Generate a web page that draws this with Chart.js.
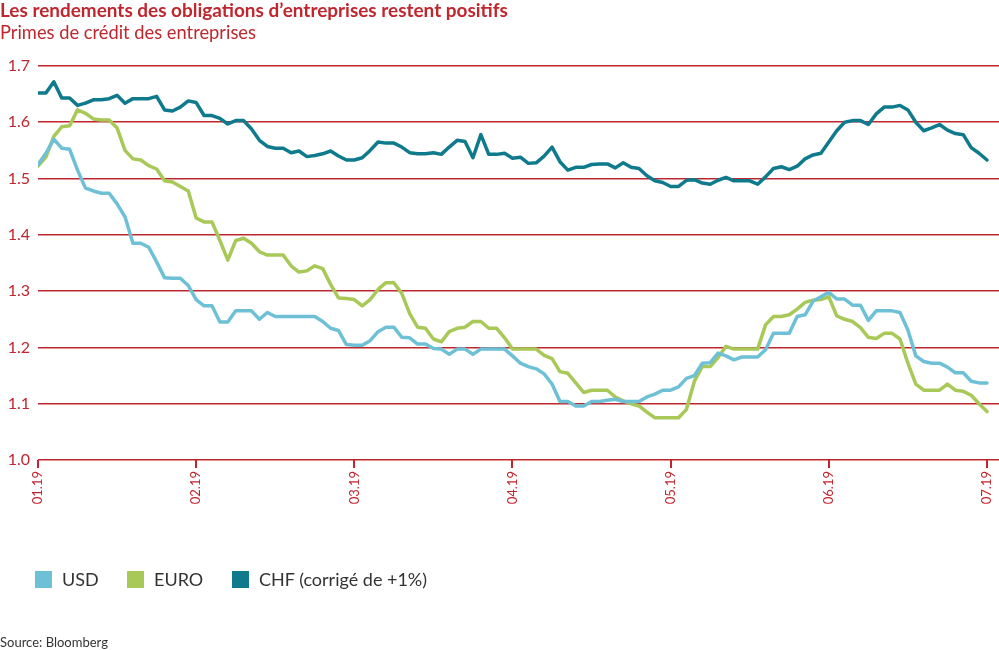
<!DOCTYPE html>
<html><head><meta charset="utf-8">
<script src="https://cdn.jsdelivr.net/npm/chart.js@4.4.0/dist/chart.umd.min.js"></script>
<style>
html,body{margin:0;padding:0;background:#fff;width:999px;height:650px;overflow:hidden;}
#wrap{position:relative;width:999px;height:650px;}
canvas{position:absolute;left:0;top:0;}
.t{position:absolute;white-space:nowrap;font-family:Lato,"Open Sans",sans-serif;}
#title{left:0;top:-2px;font-weight:bold;font-size:18px;color:#c0262e;}
#subtitle{left:0;top:21px;font-size:18px;color:#c0262e;}
#legend{position:absolute;left:35px;top:568px;font-family:Lato,"Open Sans",sans-serif;font-size:18px;color:#333;}
#legend span.item{position:absolute;white-space:nowrap;top:0;}
#legend i{display:inline-block;width:17px;height:17px;vertical-align:-2px;margin-right:10px;}
#source{left:0;top:634px;font-size:13px;color:#333;}
</style></head>
<body><div id="wrap">
<canvas id="c" width="999" height="650"></canvas>
<div class="t" id="title">Les rendements des obligations d’entreprises restent positifs</div>
<div class="t" id="subtitle">Primes de crédit des entreprises</div>
<div id="legend"></div>
<div class="t" id="source">Source: Bloomberg</div>
</div>
<script>
const tickLabels = ['01.19','02.19','03.19','04.19','05.19','06.19','07.19'];
const seriesNames = ['USD','EURO','CHF (corrigé de +1%)'];
const pointsPerMonth = 20;
const usd = [1.525,1.545,1.570,1.554,1.552,1.515,1.483,1.478,1.474,1.474,
1.455,1.432,1.385,1.385,1.378,1.352,1.324,1.323,1.323,1.310,
1.285,1.274,1.274,1.245,1.245,1.265,1.265,1.265,1.250,1.262,
1.255,1.255,1.255,1.255,1.255,1.255,1.246,1.234,1.230,1.205,
1.204,1.204,1.212,1.228,1.236,1.236,1.218,1.217,1.206,1.206,
1.198,1.197,1.188,1.197,1.197,1.188,1.197,1.197,1.197,1.197,
1.185,1.172,1.166,1.162,1.153,1.135,1.104,1.104,1.096,1.096,
1.104,1.104,1.106,1.108,1.104,1.104,1.104,1.112,1.117,1.124,
1.124,1.130,1.145,1.150,1.172,1.173,1.190,1.185,1.178,1.183,
1.183,1.183,1.196,1.225,1.225,1.225,1.255,1.258,1.282,1.290,
1.298,1.286,1.286,1.275,1.275,1.248,1.265,1.265,1.265,1.262,
1.231,1.185,1.175,1.172,1.172,1.165,1.155,1.155,1.140,1.137,1.137];
const euro = [1.522,1.538,1.575,1.592,1.594,1.622,1.616,1.606,1.604,1.604,
1.590,1.550,1.535,1.533,1.523,1.517,1.496,1.494,1.486,1.478,
1.430,1.423,1.423,1.390,1.355,1.390,1.394,1.385,1.370,1.364,
1.364,1.364,1.345,1.334,1.336,1.345,1.340,1.312,1.288,1.287,
1.285,1.274,1.285,1.303,1.315,1.315,1.296,1.260,1.236,1.234,
1.215,1.210,1.228,1.234,1.236,1.246,1.246,1.234,1.234,1.217,
1.197,1.197,1.197,1.197,1.186,1.180,1.157,1.154,1.137,1.120,
1.124,1.124,1.124,1.112,1.105,1.100,1.096,1.085,1.075,1.075,
1.075,1.075,1.090,1.140,1.166,1.166,1.182,1.202,1.197,1.197,
1.197,1.197,1.240,1.255,1.255,1.258,1.268,1.280,1.284,1.285,
1.290,1.256,1.250,1.246,1.235,1.218,1.216,1.225,1.225,1.215,
1.172,1.135,1.124,1.124,1.124,1.135,1.124,1.122,1.115,1.100,1.086];
const chf = [1.652,1.652,1.672,1.643,1.643,1.630,1.634,1.640,1.640,1.642,
1.648,1.634,1.642,1.642,1.642,1.646,1.622,1.620,1.627,1.638,
1.635,1.612,1.612,1.607,1.597,1.603,1.603,1.588,1.568,1.557,
1.554,1.554,1.546,1.549,1.539,1.541,1.544,1.549,1.540,1.533,
1.533,1.537,1.550,1.565,1.563,1.563,1.556,1.546,1.544,1.544,
1.546,1.543,1.556,1.568,1.566,1.537,1.578,1.543,1.543,1.545,
1.536,1.538,1.527,1.528,1.540,1.556,1.530,1.515,1.520,1.520,
1.525,1.526,1.526,1.519,1.528,1.520,1.518,1.505,1.496,1.493,
1.486,1.486,1.497,1.498,1.492,1.490,1.497,1.502,1.496,1.496,
1.496,1.490,1.503,1.518,1.521,1.516,1.522,1.535,1.542,1.545,
1.565,1.585,1.600,1.603,1.603,1.596,1.615,1.627,1.627,1.630,
1.622,1.600,1.585,1.590,1.596,1.586,1.580,1.578,1.555,1.545,1.533];
const yTicks = [1.0,1.1,1.2,1.3,1.4,1.5,1.6,1.7];

const RED = '#c0262e';
const colors = ['#6dc0d5','#a8c858','#0e7a8c'];
const allSeries = [usd, euro, chf];

function fit(id, target){
  const el = document.getElementById(id);
  const fs = parseFloat(getComputedStyle(el).fontSize);
  const w = el.getBoundingClientRect().width;
  el.style.fontSize = (fs * target / w) + 'px';
}
fit('title', 508);
fit('subtitle', 256);

const legendPos = [0, 92, 197];
const lg = document.getElementById('legend');
seriesNames.forEach((n,k)=>{
  const s = document.createElement('span');
  s.className='item'; s.style.left = legendPos[k]+'px';
  s.innerHTML = '<i style="background:'+colors[k]+'"></i>' + n;
  lg.appendChild(s);
});

new Chart(document.getElementById('c'), {
  type: 'line',
  data: {
    datasets: allSeries.map((arr,k)=>({
      label: seriesNames[k],
      data: arr.map((v,i)=>({x: i/pointsPerMonth, y: v})),
      borderColor: colors[k],
      backgroundColor: colors[k],
      borderWidth: 3.5,
      pointRadius: 0,
      tension: 0,
      fill: false,
      borderJoinStyle: 'round',
      borderCapStyle: 'round'
    }))
  },
  options: {
    responsive: false,
    animation: false,
    layout: { padding: { top: 66, left: 0, right: 0, bottom: 0 } },
    plugins: { legend: { display: false }, tooltip: { enabled: false }, title: {display:false} },
    scales: {
      x: {
        type: 'linear',
        min: 0,
        max: 6.076,
        afterBuildTicks: (s)=>{ s.ticks = tickLabels.map((_,k)=>({value:k})); },
        afterFit: (s)=>{ s.height = 190; s.paddingRight = 0; s.paddingLeft = 0; },
        border: { display: false },
        grid: { drawOnChartArea: false, drawTicks: true, tickLength: 8, color: RED, lineWidth: 2 },
        ticks: {
          autoSkip: false,
          maxRotation: 90, minRotation: 90,
          padding: 3,
          color: RED,
          font: { family: 'Lato, "Open Sans", sans-serif', size: 13 },
          callback: (v)=> tickLabels[v]
        }
      },
      y: {
        min: 1.0, max: 1.7,
        afterBuildTicks: (s)=>{ s.ticks = yTicks.map(v=>({value:v})); },
        afterFit: (s)=>{ s.width = 38; },
        border: { display: false },
        grid: { color: RED, lineWidth: 1.6, drawTicks: false },
        ticks: {
          padding: 8,
          color: RED,
          font: { family: 'Lato, "Open Sans", sans-serif', size: 16 },
          callback: (v)=> v.toFixed(1)
        }
      }
    }
  }
});
</script>
</body></html>
